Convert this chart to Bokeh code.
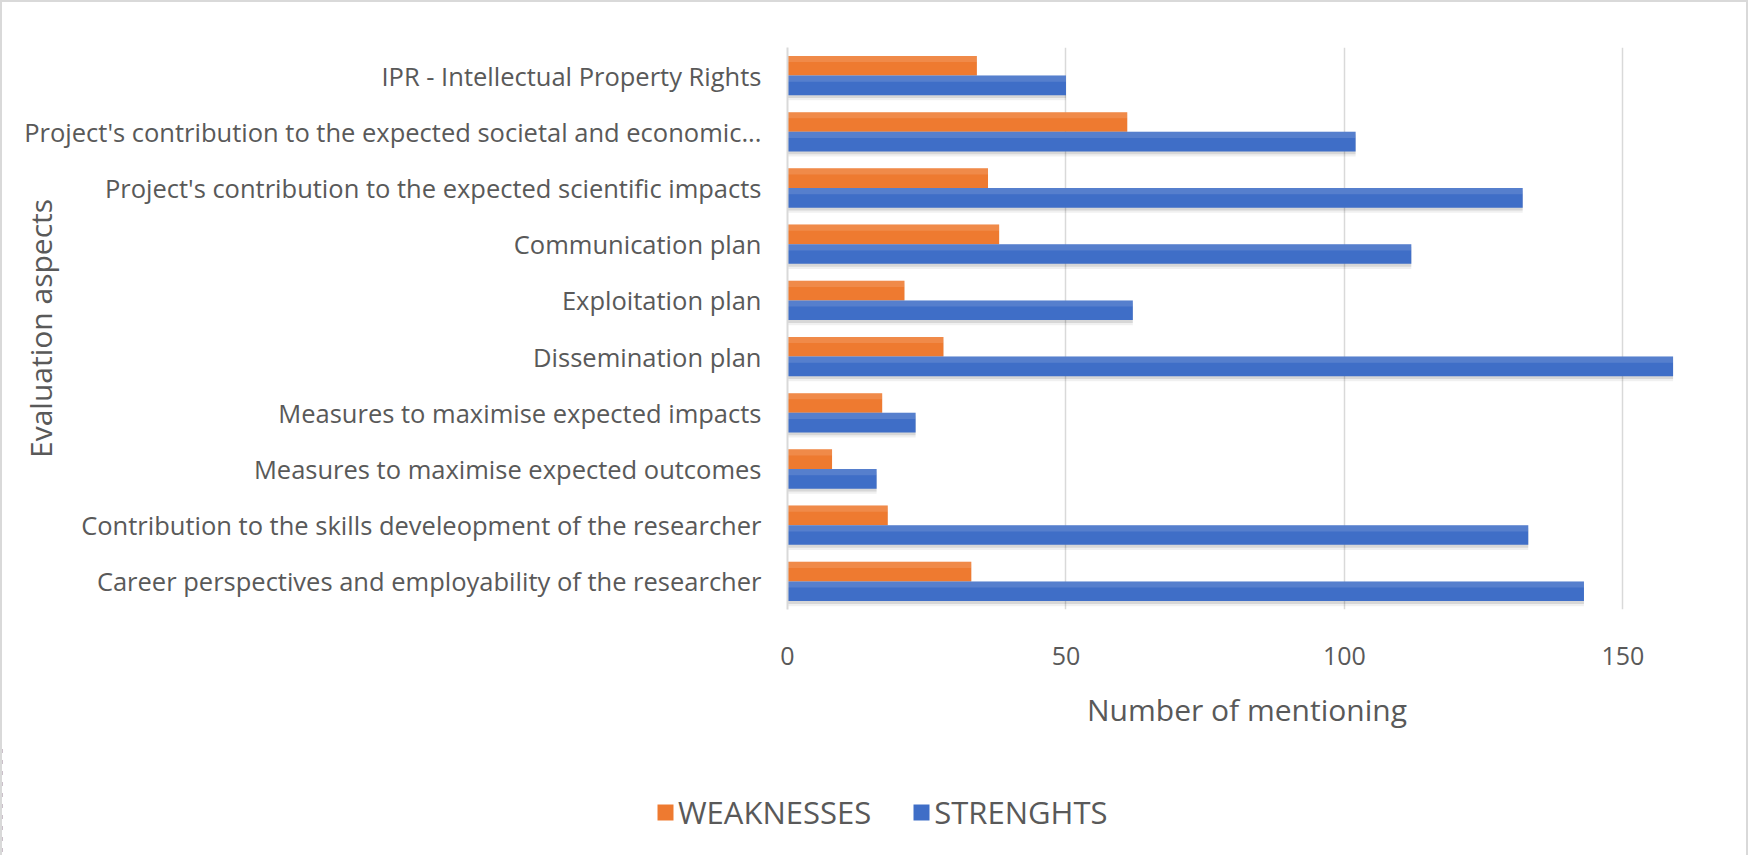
from bokeh.plotting import figure
from bokeh.layouts import column
from bokeh.models import FactorRange, FixedTicker, Legend, LegendItem, ColumnDataSource
from bokeh.transform import dodge
from bokeh.embed import file_html
from bokeh.resources import INLINE

# ---------------- data (top to bottom as shown) ----------------
categories = [
    "IPR - Intellectual Property Rights",
    "Project's contribution to the expected societal and economic...",
    "Project's contribution to the expected scientific impacts",
    "Communication plan",
    "Exploitation plan",
    "Dissemination plan",
    "Measures to maximise expected impacts",
    "Measures to maximise expected outcomes",
    "Contribution to the skills develeopment of the researcher",
    "Career perspectives and employability of the researcher",
]
weaknesses = [34, 61, 36, 38, 21, 28, 17, 8, 18, 33]
strengths = [50, 102, 132, 112, 62, 159, 23, 16, 133, 143]
x_ticks = [0, 50, 100, 150]
series_names = ["WEAKNESSES", "STRENGHTS"]
x_title = "Number of mentioning"
y_title = "Evaluation aspects"

# ---------------- style ----------------
FONT = "Open Sans"
TXT = "#595959"
ORANGE = "#EE7A30"
BLUE = "#3F6EC7"
GRID = "#D9D9D9"
BORDER = "2px solid #D9D9D9"

src = ColumnDataSource(dict(cat=categories, w=weaknesses, s=strengths))

W = 1748
HM, HL = 745, 110
FL, FW = 785, 919
p = figure(
    width=W, height=HM,
    x_range=(0, 165),
    y_range=FactorRange(*list(reversed(categories))),
    output_backend="svg", toolbar_location=None,
    min_border_left=FL, min_border_right=W - FL - FW,
    min_border_top=45, min_border_bottom=HM - 45 - 562,
)
p.styles = {"border-left": BORDER, "border-right": BORDER, "border-top": BORDER}
p.outline_line_color = None
p.background_fill_color = "white"
p.border_fill_color = "white"

# soft shadows
for off, a in [(0.05, 0.10), (0.09, 0.06)]:
    p.hbar(y=dodge("cat", -0.175 - off, range=p.y_range), right="s", left=0, height=0.35,
           source=src, fill_color="black", fill_alpha=a, line_color=None)
    p.hbar(y=dodge("cat", 0.175 - off, range=p.y_range), right="w", left=0, height=0.35,
           source=src, fill_color="black", fill_alpha=a * 0.6, line_color=None)

r_w = p.hbar(y=dodge("cat", 0.175, range=p.y_range), right="w", left=0, height=0.35,
             source=src, fill_color=ORANGE, line_color=None)
r_s = p.hbar(y=dodge("cat", -0.175, range=p.y_range), right="s", left=0, height=0.35,
             source=src, fill_color=BLUE, line_color=None)
# subtle top highlight to suggest the gradient
p.hbar(y=dodge("cat", 0.175 + 0.12, range=p.y_range), right="w", left=0, height=0.11,
       source=src, fill_color="white", fill_alpha=0.12, line_color=None)
p.hbar(y=dodge("cat", -0.175 + 0.12, range=p.y_range), right="s", left=0, height=0.11,
       source=src, fill_color="white", fill_alpha=0.12, line_color=None)

# x axis
p.xaxis.ticker = FixedTicker(ticks=x_ticks)
p.xaxis.axis_line_color = None
p.xaxis.major_tick_line_color = None
p.xaxis.minor_tick_line_color = None
p.xaxis.major_label_text_font = FONT
p.xaxis.major_label_text_font_size = "25px"
p.xaxis.major_label_text_color = TXT
p.xaxis.major_label_standoff = 31
p.xaxis.axis_label = x_title
p.xaxis.axis_label_text_font = FONT
p.xaxis.axis_label_text_font_size = "30px"
p.xaxis.axis_label_text_font_style = "normal"
p.xaxis.axis_label_text_color = TXT
p.xaxis.axis_label_standoff = 21

# y axis
p.yaxis.axis_line_color = GRID
p.yaxis.axis_line_width = 2
p.yaxis.major_tick_line_color = None
p.yaxis.minor_tick_line_color = None
p.yaxis.major_label_text_font = FONT
p.yaxis.major_label_text_font_size = "25.5px"
p.yaxis.major_label_text_color = TXT
p.yaxis.major_label_standoff = 20
p.yaxis.axis_label = y_title
p.yaxis.axis_label_text_font = FONT
p.yaxis.axis_label_text_font_size = "30px"
p.yaxis.axis_label_text_font_style = "normal"
p.yaxis.axis_label_text_color = TXT
p.yaxis.axis_label_standoff = -40

p.xgrid.grid_line_color = GRID
p.xgrid.grid_line_width = 1.5
p.ygrid.grid_line_color = None

# ---------------- legend strip ----------------
pl = figure(width=W, height=HL, x_range=(1000, 1001),
            y_range=FactorRange(*list(reversed(categories))),
            x_axis_type=None, min_border=0,
            output_backend="svg", toolbar_location=None)
pl.yaxis.visible = False
pl.styles = {"border-left": BORDER, "border-right": BORDER}
pl.outline_line_color = None
pl.grid.grid_line_color = None
# legend proxies (same data; the range keeps them out of view in this strip)
lw = pl.hbar(y="cat", right="w", left=0, height=0.35, source=src,
             fill_color=ORANGE, line_color=None)
ls = pl.hbar(y="cat", right="s", left=0, height=0.35, source=src,
             fill_color=BLUE, line_color=None)
legend = Legend(
    items=[LegendItem(label=series_names[0], renderers=[lw], index=0),
           LegendItem(label=series_names[1], renderers=[ls], index=0)],
    orientation="horizontal", location=(653, 22),
    label_text_font=FONT, label_text_font_size="31px", label_text_color=TXT,
    glyph_width=20, glyph_height=20, label_standoff=3, spacing=40,
    padding=0, margin=0, border_line_color=None, background_fill_alpha=0,
    inactive_fill_alpha=0,
)
pl.add_layout(legend)

for fig in (p, pl):
    try:
        fig.frame_align = False
    except Exception:
        pass

layout = column(p, pl, spacing=0)
open("out.html", "w").write(file_html(layout, INLINE))
